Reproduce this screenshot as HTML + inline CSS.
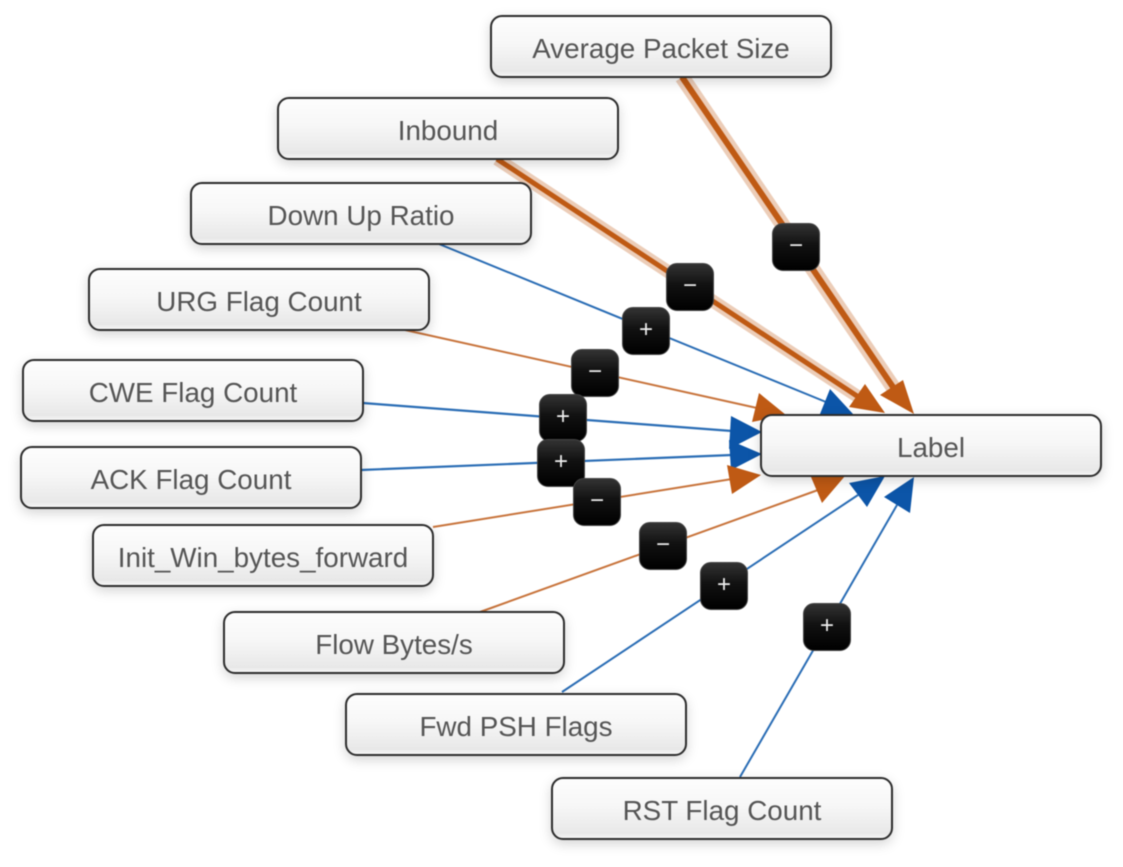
<!DOCTYPE html>
<html>
<head>
<meta charset="utf-8">
<style>
html,body{margin:0;padding:0;background:#fff;}
#wrap{position:relative;width:1123px;height:867px;overflow:hidden;background:#fff;filter:blur(0.6px);}
svg{position:absolute;left:0;top:0;}
.n{position:absolute;box-sizing:border-box;width:342px;height:63px;border:2px solid #2c2c2c;border-radius:12px;
background:linear-gradient(to bottom,#fdfdfd 0%,#f7f7f7 45%,#e8e8e8 92%,#f6f6f6 100%);
box-shadow:0 4px 12px rgba(0,0,0,.17);
font:27.8px/63px "Liberation Sans",sans-serif;color:#555;text-align:center;white-space:nowrap;}
.n span{position:relative;top:0;display:inline-block;}
.b{position:absolute;box-sizing:border-box;width:48px;height:48px;border-radius:11px;border:1px solid #444;
background:linear-gradient(to bottom,#333 0%,#111 45%,#000 100%);
color:#eee;text-align:center;font:24px/43px "Liberation Sans",sans-serif;}
</style>
</head>
<body>
<div id="wrap">
<svg width="1123" height="867" viewBox="0 0 1123 867">
<g fill="none" stroke-linecap="butt">
<line x1="682" y1="77" x2="895" y2="390" stroke="#bf5a14" stroke-opacity=".3" stroke-width="15"/>
<line x1="682" y1="77" x2="895" y2="390" stroke="#bf5a14" stroke-width="6"/>
<line x1="497" y1="159" x2="860" y2="398" stroke="#bf5a14" stroke-opacity=".3" stroke-width="13"/>
<line x1="497" y1="159" x2="860" y2="398" stroke="#bf5a14" stroke-width="5"/>
<line x1="439" y1="244" x2="826" y2="402" stroke="#2a6db5" stroke-width="2"/>
<line x1="405" y1="330" x2="757" y2="408" stroke="#c8743c" stroke-width="2"/>
<line x1="363" y1="403" x2="732" y2="431" stroke="#2a6db5" stroke-width="2.2"/>
<line x1="361" y1="470" x2="732" y2="455" stroke="#2a6db5" stroke-width="2.2"/>
<line x1="433" y1="527" x2="732" y2="479" stroke="#c8743c" stroke-width="2"/>
<line x1="480" y1="612" x2="818" y2="490" stroke="#c8743c" stroke-width="2"/>
<line x1="562" y1="692" x2="858" y2="495" stroke="#2a6db5" stroke-width="2"/>
<line x1="740" y1="777" x2="897" y2="505" stroke="#2a6db5" stroke-width="2"/>
</g>
<g stroke="none">
<polygon points="903,380 880,395 914,414" fill="#bf5a14"/>
<polygon points="865,384 849,407 885,413" fill="#bf5a14"/>
<polygon points="830,389 820,414 853,414" fill="#0c55a8"/>
<polygon points="759,393 752,422 786,415" fill="#bf5a14"/>
<polygon points="731,416 729,449 762,432" fill="#0c55a8"/>
<polygon points="729,440 731,470 762,454" fill="#0c55a8"/>
<polygon points="727,465 732,494 761,475" fill="#bf5a14"/>
<polygon points="811,477 822,503 845,476" fill="#bf5a14"/>
<polygon points="849,483 867,507 885,476" fill="#0c55a8"/>
<polygon points="884,497 910,513 914,477" fill="#0c55a8"/>
</g>
</svg>
<div class="n" style="left:490px;top:15px"><span>Average Packet Size</span></div>
<div class="n" style="left:277px;top:97px"><span>Inbound</span></div>
<div class="n" style="left:190px;top:182px"><span>Down Up Ratio</span></div>
<div class="n" style="left:88px;top:268px"><span>URG Flag Count</span></div>
<div class="n" style="left:22px;top:359px"><span>CWE Flag Count</span></div>
<div class="n" style="left:20px;top:446px"><span>ACK Flag Count</span></div>
<div class="n" style="left:92px;top:524px"><span>Init_Win_bytes_forward</span></div>
<div class="n" style="left:223px;top:611px"><span>Flow Bytes/s</span></div>
<div class="n" style="left:345px;top:693px"><span>Fwd PSH Flags</span></div>
<div class="n" style="left:551px;top:777px"><span>RST Flag Count</span></div>
<div class="n" style="left:760px;top:414px"><span>Label</span></div>

<div class="b" style="left:772px;top:223px">&minus;</div>
<div class="b" style="left:666px;top:263px">&minus;</div>
<div class="b" style="left:622px;top:307px">+</div>
<div class="b" style="left:571px;top:349px">&minus;</div>
<div class="b" style="left:539px;top:394px">+</div>
<div class="b" style="left:537px;top:439px">+</div>
<div class="b" style="left:573px;top:478px">&minus;</div>
<div class="b" style="left:639px;top:522px">&minus;</div>
<div class="b" style="left:700px;top:562px">+</div>
<div class="b" style="left:803px;top:603px">+</div>
</div>
</body>
</html>
